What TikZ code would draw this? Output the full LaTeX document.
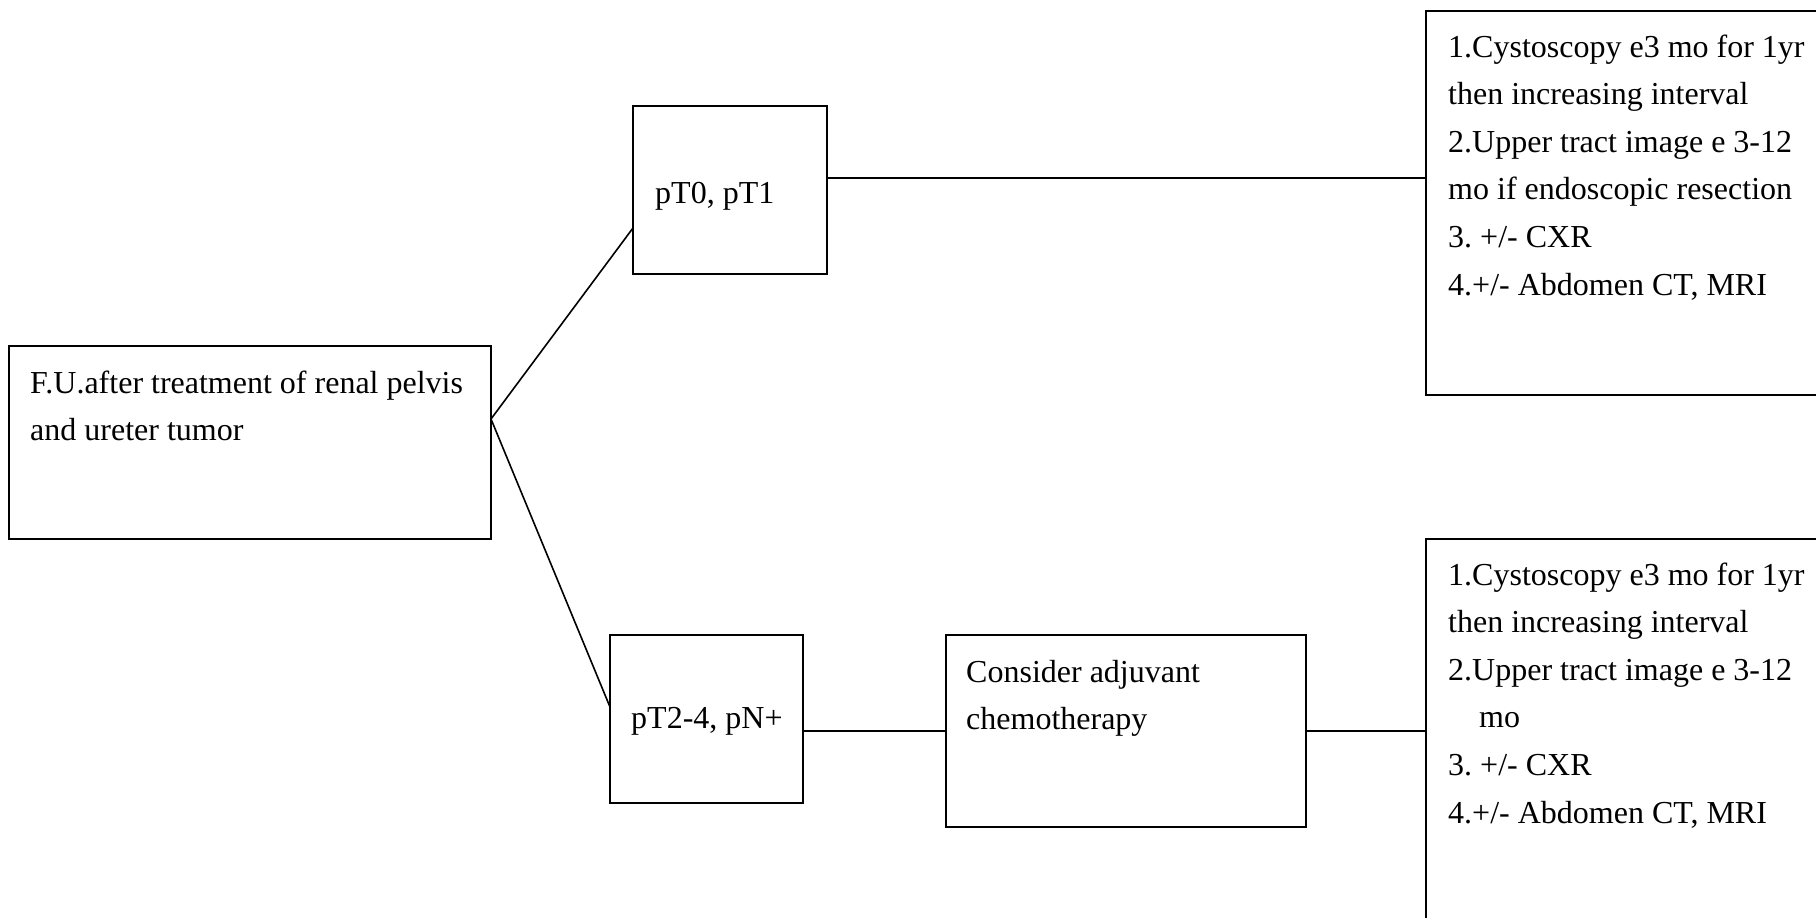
\documentclass[tikz,border=0pt]{standalone}
\usepackage{fontspec}
\setmainfont{Liberation Serif}
\usetikzlibrary{calc}
\frenchspacing
\newcommand{\mlines}[1]{\vtop{\halign{##\hfil\cr#1\crcr}}}
\begin{document}
\begin{tikzpicture}[x=1pt,y=-1pt,
  box/.style={draw, line width=1.7pt, inner sep=0pt, outer sep=0pt, anchor=north west},
  txt/.style={inner sep=0pt, anchor=base west, font=\fontsize{32}{47.6}\selectfont\frenchspacing},
  link/.style={line width=1.6pt}]
\useasboundingbox (0,0) rectangle (1816,918);
\clip (0,0) rectangle (1816,918);
% boxes
\node[box, minimum width=482, minimum height=193] (fu) at (9,346) {};
\node[box, minimum width=194, minimum height=168] (p0) at (633,106) {};
\node[box, minimum width=400, minimum height=384] (tr) at (1426,11) {};
\node[box, minimum width=193, minimum height=168] (p2) at (610,635) {};
\node[box, minimum width=360, minimum height=192] (ca) at (946,635) {};
\node[box, minimum width=400, minimum height=400] (br) at (1426,539) {};
% texts
\node[txt] (fu-t) at (30,393) {\mlines{F.U.after treatment of renal pelvis\cr and ureter tumor}};
\node[txt] (p0-t) at (655,203) {pT0, pT1};
\node[txt] (tr-t) at (1448,57) {\mlines{1.Cystoscopy e3 mo for 1yr\cr then increasing interval\cr 2.Upper tract image e 3-12\cr mo if endoscopic resection\cr 3. +/- CXR\cr 4.+/- Abdomen CT, MRI}};
\node[txt] (p2-t) at (631,728) {pT2-4, pN+};
\node[txt] (ca-t) at (966,682) {\mlines{Consider adjuvant\cr chemotherapy}};
\node[txt] (br-t) at (1448,585) {\mlines{1.Cystoscopy e3 mo for 1yr\cr then increasing interval\cr 2.Upper tract image e 3-12\cr \hspace*{31pt}mo\cr 3. +/- CXR\cr 4.+/- Abdomen CT, MRI}};
% connectors
\coordinate (fu-o) at ($(fu.north east)+(0,73)$);
\coordinate (p0-i) at ($(p0.north west)+(0,122)$);
\coordinate (p2-i) at ($(p2.north west)+(0,72)$);
\draw[link] (fu-o) -- (p0-i);
\draw[link] (fu-o) -- (p2-i);
\draw[link] ($(p0.north east)+(0,72)$) -- (tr.west |- {$(p0.north east)+(0,72)$});
\draw[link] ($(p2.north east)+(0,96)$) -- (ca.west |- {$(p2.north east)+(0,96)$});
\draw[link] ($(ca.north east)+(0,96)$) -- (br.west |- {$(ca.north east)+(0,96)$});
\end{tikzpicture}
\end{document}
